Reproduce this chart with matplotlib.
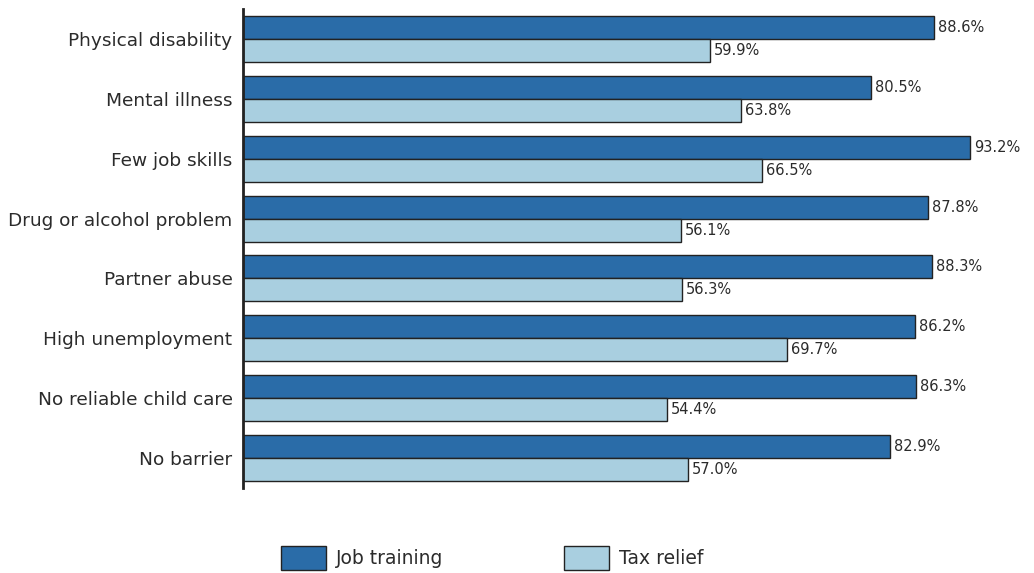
import matplotlib.pyplot as plt
import numpy as np
from matplotlib.patches import Patch

categories = [
    "Physical disability",
    "Mental illness",
    "Few job skills",
    "Drug or alcohol problem",
    "Partner abuse",
    "High unemployment",
    "No reliable child care",
    "No barrier",
]
job_training = [88.6, 80.5, 93.2, 87.8, 88.3, 86.2, 86.3, 82.9]
tax_relief = [59.9, 63.8, 66.5, 56.1, 56.3, 69.7, 54.4, 57.0]

DARK = "#2a6ca8"
LIGHT = "#a9cfe0"
EDGE = "#222222"
TEXT = "#2b2b2b"

plt.rcParams["font.family"] = ["DejaVu Sans"]

fig = plt.figure(figsize=(10.34, 5.73), dpi=100)
ax = fig.add_axes([243 / 1034, 1 - 488 / 573, 780 / 1034, 479 / 573])

y = np.arange(len(categories))
h = 23 / 60

ax.barh(y - h / 2, job_training, height=h, color=DARK, edgecolor=EDGE, linewidth=1)
ax.barh(y + h / 2, tax_relief, height=h, color=LIGHT, edgecolor=EDGE, linewidth=1)

for yi, v in zip(y, job_training):
    ax.text(v + 0.5, yi - h / 2, f"{v:.1f}%", va="center", ha="left", fontsize=10.5, color=TEXT)
for yi, v in zip(y, tax_relief):
    ax.text(v + 0.5, yi + h / 2, f"{v:.1f}%", va="center", ha="left", fontsize=10.5, color=TEXT)

ax.set_xlim(0, 100)
ax.set_ylim(len(categories) - 0.5, -0.5)
ax.set_yticks(y)
ax.set_yticklabels(categories, fontsize=13.3, color=TEXT)
ax.tick_params(axis="y", length=0, pad=7.5)
ax.set_xticks([])
for s in ["top", "right", "bottom"]:
    ax.spines[s].set_visible(False)
ax.spines["left"].set_linewidth(2)
ax.spines["left"].set_color("#222222")

handles = [
    Patch(facecolor=DARK, edgecolor=EDGE, linewidth=1, label="Job training"),
    Patch(facecolor=LIGHT, edgecolor=EDGE, linewidth=1, label="Tax relief"),
]
leg = fig.legend(handles=handles, loc="center", bbox_to_anchor=(492 / 1034, 1 - 558 / 573), ncol=2,
                 frameon=False, fontsize=13.5, handlelength=2.4, handleheight=1.55,
                 handletextpad=0.55, columnspacing=6.4, borderpad=0)
for t in leg.get_texts():
    t.set_color(TEXT)

fig.savefig("out.png", dpi=100)
